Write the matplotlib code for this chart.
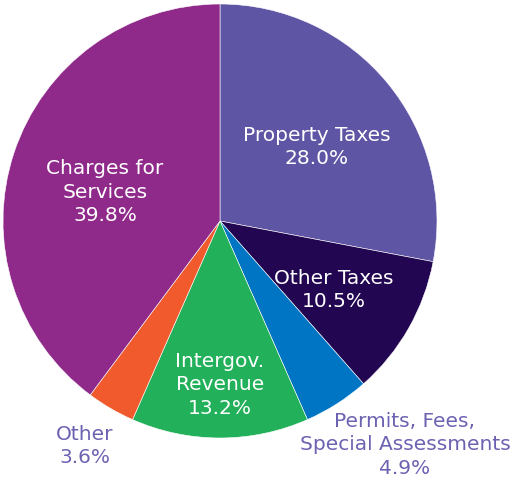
import matplotlib.pyplot as plt

labels = ["Property Taxes", "Other Taxes", "Permits, Fees,\nSpecial Assessments",
          "Intergov.\nRevenue", "Other", "Charges for\nServices"]
values = [28.0, 10.5, 4.9, 13.2, 3.6, 39.8]
colors = ["#5f55a5", "#230651", "#0075c4", "#22b15a", "#f15a2c", "#8f2a8b"]

# label centres in pixels of the original picture (x, y from top-left)
label_px = [(317, 147), (334, 290), (405, 445), (220, 385), (85, 446), (105, 192)]
inside = [True, True, False, True, False, True]

W, H = 515, 483
cx, cy, r = 220, 221, 217

fig = plt.figure(figsize=(W / 100, H / 100), dpi=100)
ax = fig.add_axes([(cx - r) / W, (H - cy - r) / H, 2 * r / W, 2 * r / H])
ax.pie(values, colors=colors, startangle=90, counterclock=False,
       wedgeprops=dict(edgecolor="white", linewidth=0.4))
ax.set_xlim(-1, 1)
ax.set_ylim(-1, 1)
ax.set_aspect("equal")
ax.axis("off")

for lab, v, (px, py), ins in zip(labels, values, label_px, inside):
    x = (px - cx) / r
    y = (cy - py) / r
    ax.text(x, y, f"{lab}\n{v:.1f}%", ha="center", va="center",
            color="white" if ins else "#6c62b2", fontsize=14.5,
            family="DejaVu Sans", linespacing=1.3, clip_on=False)

fig.savefig("out.png", dpi=100)
